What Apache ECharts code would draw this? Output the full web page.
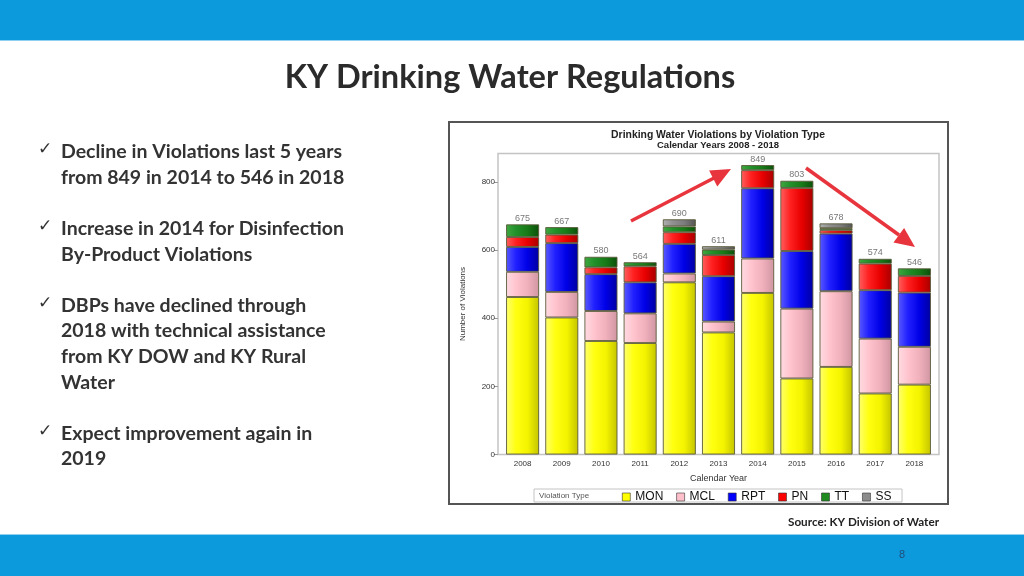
<!DOCTYPE html>
<html><head><meta charset="utf-8">
<script src="https://cdn.jsdelivr.net/npm/echarts@6/dist/echarts.min.js"></script>
<style>html,body{margin:0;padding:0;background:#fff}#c{width:1024px;height:576px}</style>
</head><body><div id="c"></div>
<script>
// ---- data ----
const years  = ['2008','2009','2010','2011','2012','2013','2014','2015','2016','2017','2018'];
const MON    = [462,402,333,327,505,358,474,223,257,179,205];
const MCL    = [74, 75, 88, 87, 26, 32, 101,205,222,161,111];
const RPT    = [73, 143,108,91, 87, 133,206,169,169,142,159];
const PN     = [29, 25, 20, 47, 34, 62, 53, 185,10, 78, 49];
const TT     = [37, 22, 31, 12, 17, 16, 15, 21, 6,  14, 22];
const SS     = [0,  0,  0,  0,  21, 10, 0,  0,  14, 0,  0];
const totals = [675,667,580,564,690,611,849,803,678,574,546];
const typeNames = ['MON','MCL','RPT','PN','TT','SS'];
const slideTitle = 'KY Drinking Water Regulations';
const chartTitle = 'Drinking Water Violations by Violation Type';
const chartSub = 'Calendar Years 2008 - 2018';
const bullets = [
  ['Decline in Violations last 5 years','from 849 in 2014 to 546 in 2018'],
  ['Increase in 2014 for Disinfection','By-Product Violations'],
  ['DBPs have declined through','2018 with technical assistance','from KY DOW and KY Rural','Water'],
  ['Expect improvement again in','2019']
];
const sourceText = 'Source: KY Division of Water';
const pageNum = '8';

// ---- styling ----
const seriesData = [MON, MCL, RPT, PN, TT, SS];
const solid = ['#ffff00','#ffc0cb','#0000ff','#ff0000','#1f8a1f','#8c8c8c'];
const stops = [
  ['#ffff70','#ffff10','#f4f400','#c4c400'],
  ['#ffdbe2','#ffc4ce','#f0b0bc','#cf96a2'],
  ['#5a5aff','#2020ff','#0000e6','#0000a0'],
  ['#ff6060','#ff2020','#e80000','#a80000'],
  ['#40a840','#22902a','#177a17','#0b500b'],
  ['#b0b0b0','#909090','#7c7c7c','#555555']
];
function grad(s){
  return {type:'linear',x:0,y:0,x2:1,y2:0,colorStops:[
    {offset:0,color:s[0]},{offset:0.3,color:s[1]},{offset:0.65,color:s[2]},{offset:1,color:s[3]}]};
}

const chart = echarts.init(document.getElementById('c'), null, {renderer:'canvas'});

const series = seriesData.map((arr, i) => ({
  name: typeNames[i], type: 'bar', stack: 'v', barWidth: 33,
  data: arr.map(v => v === 0 ? null : v),
  itemStyle: {color: grad(stops[i]), borderColor: '#5a5a3a', borderWidth: 0.9},
  emphasis: {disabled: true}, z: 3
}));
series.push({
  name: 'total', type: 'scatter', data: totals, symbolSize: 1,
  itemStyle: {color: 'rgba(0,0,0,0)'}, z: 4,
  label: {show: true, position: 'top', distance: 1, color: '#555', fontSize: 9,
          fontFamily: 'Liberation Sans'}
});

// slide graphics
const g = [];
g.push({type:'rect', shape:{x:0,y:0,width:1024,height:40}, style:{fill:'#0d9add'}, z:-10});
g.push({type:'rect', shape:{x:0,y:40,width:1024,height:1}, style:{fill:'#8fd0f0'}, z:-10});
g.push({type:'rect', shape:{x:0,y:535,width:1024,height:41}, style:{fill:'#0d9add'}, z:-10});
g.push({type:'rect', shape:{x:0,y:534,width:1024,height:1}, style:{fill:'#8fd0f0'}, z:-10});
g.push({type:'text', x:510, y:78, style:{text:slideTitle, font:'bold 32.5px Lato', fill:'#2b2b2b',
  textAlign:'center', textVerticalAlign:'middle'}, z:1});
let k = 0;
bullets.forEach(b => {
  g.push({type:'text', x:38, y:150 + 25.6*k, style:{text:'\u2713', font:'17px "DejaVu Sans"', fill:'#333',
    textAlign:'left', textVerticalAlign:'middle'}, z:1});
  b.forEach(line => {
    g.push({type:'text', x:61, y:152 + 25.6*k, style:{text:line, font:'bold 19.5px Lato', fill:'#333',
      textAlign:'left', textVerticalAlign:'middle'}, z:1});
    k++;
  });
  k++;
});
g.push({type:'text', x:939, y:522, style:{text:sourceText, font:'bold 11.7px Lato', fill:'#222',
  textAlign:'right', textVerticalAlign:'middle'}, z:1});
g.push({type:'text', x:902, y:555, style:{text:pageNum, font:'11px "Liberation Sans"', fill:'#1f4e79',
  textAlign:'center', textVerticalAlign:'middle'}, z:1});
// chart frame
g.push({type:'rect', shape:{x:449,y:122,width:499,height:382}, style:{fill:'#fff', stroke:'#555', lineWidth:2}, z:-5});
g.push({type:'rect', shape:{x:498,y:153.5,width:441,height:301}, style:{fill:'#fff', stroke:'#c4c4c4', lineWidth:1.5}, z:-4});
g.push({type:'text', x:718, y:135, style:{text:chartTitle, font:'bold 10.4px "Liberation Sans"', fill:'#222',
  textAlign:'center', textVerticalAlign:'middle'}, z:1});
g.push({type:'text', x:718, y:145.5, style:{text:chartSub, font:'bold 9.5px "Liberation Sans"', fill:'#222',
  textAlign:'center', textVerticalAlign:'middle'}, z:1});
// legend box
g.push({type:'rect', shape:{x:534,y:489,width:368,height:13}, style:{fill:'#fff', stroke:'#c4c4c4', lineWidth:1}, z:-3});
g.push({type:'text', x:539, y:495.5, style:{text:'Violation Type', font:'8px "Liberation Sans"', fill:'#555',
  textAlign:'left', textVerticalAlign:'middle'}, z:1});
// annotation arrows
const arrowColor = '#e8343c';
g.push({type:'line', shape:{x1:631,y1:221,x2:714,y2:178}, style:{stroke:arrowColor, lineWidth:3.5}, z:50});
g.push({type:'polygon', shape:{points:[[731,169],[717.3,186.4],[709.1,170.4]]}, style:{fill:arrowColor}, z:50});
g.push({type:'line', shape:{x1:806,y1:168,x2:899,y2:235}, style:{stroke:arrowColor, lineWidth:3.5}, z:50});
g.push({type:'polygon', shape:{points:[[915,247],[893.5,242.6],[904.1,228]]}, style:{fill:arrowColor}, z:50});

chart.setOption({
  animation: false,
  backgroundColor: '#fff',
  textStyle: {fontFamily: 'Liberation Sans'},
  grid: {left: 503, top: 153.5, width: 431, height: 301, containLabel: false},
  legend: {
    left: 617, top: 486, itemWidth: 8, itemHeight: 8, itemGap: 13, icon: 'rect',
    data: typeNames.map((n, i) => ({name: n, itemStyle: {color: solid[i], borderColor: '#333', borderWidth: 0.6}})),
    textStyle: {fontSize: 12, color: '#111', padding: [0,0,0,0]}, selectedMode: false
  },
  xAxis: {
    type: 'category', data: years,
    axisLine: {show: false}, axisTick: {show: false},
    axisLabel: {fontSize: 8, color: '#333', margin: 5},
    name: 'Calendar Year', nameLocation: 'middle', nameGap: 20,
    nameTextStyle: {fontSize: 9, color: '#333'}
  },
  yAxis: {
    type: 'value', min: 0, max: 883, interval: 200, offset: 5,
    axisLine: {show: false},
    axisTick: {show: true, length: 4, lineStyle: {color: '#999'}},
    axisLabel: {fontSize: 8, color: '#333', margin: 3, showMaxLabel: false},
    splitLine: {show: false},
    name: 'Number of Violations', nameLocation: 'middle', nameGap: 31,
    nameTextStyle: {fontSize: 8, color: '#333'}
  },
  graphic: {elements: g},
  series: series
});
</script>
</body></html>
